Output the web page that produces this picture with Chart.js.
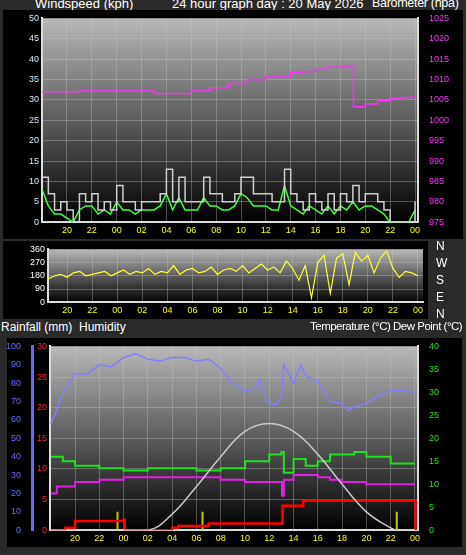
<!DOCTYPE html>
<html><head><meta charset="utf-8">
<script src="https://cdn.jsdelivr.net/npm/chart.js@4"></script>
<style>
body{margin:0;background:#2a2a2a;width:466px;height:555px;overflow:hidden;font-family:"Liberation Sans",Arial,sans-serif;}
.t{position:absolute;color:#fff;font-size:12px;white-space:nowrap;}
.c{position:absolute;background:#000;}
</style></head><body>
<div class="t" style="left:35px;top:-4px;font-size:13px">Windspeed (kph)</div>
<div class="t" style="left:172px;top:-4px;font-size:13px">24 hour graph day : 20 May 2026</div>
<div class="t" style="left:372px;top:-4px;font-size:12.5px;letter-spacing:-0.3px">Barometer (hpa)</div>
<div class="c" style="left:3px;top:10px;width:460px;height:229px"><canvas id="c1"></canvas></div>
<div class="c" style="left:3px;top:241px;width:425px;height:78px"><canvas id="c2"></canvas></div>
<div class="t" style="left:436px;top:238px;line-height:17px">N<br>W<br>S<br>E<br>N</div>
<div class="t" style="left:1px;top:320px">Rainfall (mm)&nbsp; Humidity</div>
<div class="t" style="left:310px;top:320px;font-size:11.5px;letter-spacing:-0.5px">Temperature (°C) Dew Point (°C)</div>
<div class="c" style="left:7px;top:338px;width:455px;height:209px"><canvas id="c3"></canvas></div>
<script>
// hours since 00:00 of the previous day, every 30 min
const hours = [];
for (let h = 18; h <= 48; h += 0.5) hours.push(h);
const windGust = [11,7,3,5,3,0,7,5,7,3,5,3,9,5,5,3,5,5,5,7,13,5,11,5,5,5,11,7,7,5,5,7,11,11,7,7,7,5,5,13,7,5,3,7,5,3,7,3,7,5,9,5,7,7,5,3,0,0,0,0,5];
const windAvg = [8,4,2,2,1,0,3,4,4,2,3,2,5,3,3,2,3,3,3,4,7,3,6,3,3,3,6,4,4,3,3,4,7,6,4,4,4,3,3,9,4,3,2,4,3,2,4,2,4,3,5,3,4,4,3,2,0,0,0,0,3];
const windDir = [200,160,180,190,170,200,210,180,190,200,210,180,200,220,190,210,200,230,190,210,200,250,190,220,230,200,210,240,190,220,230,210,250,200,230,260,220,240,200,280,230,150,250,30,270,320,60,300,330,120,340,280,320,200,300,350,230,170,210,200,180];
const pressHours = [18,21,24,27,28.5,30,31.5,33,34.5,36,37,38,39,40,41,42,43,43.05,44,45,46,47,48];
const pressVals = [1007,1007.2,1007.2,1006.6,1006.6,1007.2,1008,1009,1010,1010.6,1010.6,1011.8,1012,1012.5,1013,1013.3,1013.3,1003.3,1004,1004.8,1005.5,1005.6,1006];
const humHours = [18,18.5,19,19.5,20,21,22,23,24,25,26,27,28,29,30,31,32,33,34,35,35.2,35.8,36.5,37,37.2,38,38.6,39,40,41,42,42.5,43,44,45,46,47,48];
const humVals = [58,65,75,80,85,85,90,89,94,96,93,92,94,94,92,93,88,80,76,77,82,70,68,72,90,80,90,84,81,70,69,65,67,69,73,76,76,75];
const tempHours = [18,19,20,22,24,26,28,30,32,34,35,36,37,37.2,38,38.5,39,40,41,42,43,44,46,48];
const tempVals = [16,15,14,13.5,13,13.5,13.5,13,13.5,15,15,16.5,17,12.5,15.5,15.5,14,15,16.5,16.5,17,16,14.5,14.5];
const dewHours = [18,18.5,20,22,24,26,28,30,32,34,36,37,37.05,37.2,38,40,41,42,44,48];
const dewVals = [8,9.5,10.5,11,11.5,11.5,11.5,11.5,11,10.5,10.5,10.5,7.5,11,12,11.5,11,10.5,10,10];
const solarHours = [18,26,28,30,32,34,36,38,40,42,44,46,46.6,48];
const solarVals = [0,0,3.5,9.5,16,21.5,23.2,21.5,16.5,10,4,0.5,0,0];
const rainHours = [18,19.2,20,24,24.1,26,28,28.5,31,37,37.1,38.5,38.8,48,48.05];
const rainVals = [0,0.4,1.5,1.7,0,0,0.4,0.7,1.1,1.1,4,4,4.8,4.8,0];
const rateHours = [23.5,30.5,46.5];
const rateVals = [4,4,4];

const pts = (xs, ys) => xs.map((x, i) => ({x, y: ys[i]}));
const spikes = (xs, ys) => xs.flatMap((x, i) => [{x, y: 0}, {x, y: ys[i]}, {x, y: NaN}]);
const tickLbl = v => String(v % 24).padStart(2, '0');
const bg = {
  id: 'bg',
  beforeDraw(ch) {
    const a = ch.chartArea, c = ch.ctx;
    const g = c.createLinearGradient(0, a.top, 0, a.bottom);
    g.addColorStop(0, '#b8b8b8'); g.addColorStop(1, '#000');
    c.fillStyle = g; c.fillRect(a.left, a.top, a.right - a.left, a.bottom - a.top);
  }
};
const grid = {color: 'rgba(200,200,200,0.35)', borderDash: [1, 2], drawTicks: false};
const xAxis = (min, max) => ({type: 'linear', min, max, offset: false,
  afterBuildTicks: s => { s.ticks = []; for (let h = 20; h <= 48; h += 2) s.ticks.push({value: h}); },
  ticks: {color: '#ffff00', font: {size: 9}, callback: tickLbl, padding: 3, maxRotation: 0},
  grid, border: {color: '#ddd', width: 2}});
const yAxis = (pos, min, max, step, color, w, extra) => Object.assign({type: 'linear', position: pos, min, max,
  ticks: {stepSize: step, color, font: {size: 9}, padding: 3, autoSkip: false, callback: v => String(v)},
  grid: pos === 'left' ? grid : {display: false},
  border: {color: '#ddd', width: 2},
  afterFit: s => { s.width = w; }}, extra || {});
const base = {animation: false, responsive: false, plugins: {legend: {display: false}, tooltip: {enabled: false}},
  elements: {point: {radius: 0}, line: {borderWidth: 1.5, tension: 0}}};
function mk(id, w, h, cfg) {
  const cv = document.getElementById(id); cv.width = w; cv.height = h;
  new Chart(cv, Object.assign({type: 'line', plugins: [bg]}, cfg));
}

mk('c1', 460, 229, {data: {datasets: [
  {data: pts(hours, windGust), borderColor: '#cfcfcf', stepped: true, yAxisID: 'y'},
  {data: pts(hours, windAvg), borderColor: '#40ff40', yAxisID: 'y'},
  {data: pts(pressHours, pressVals), borderColor: '#ff30ff', stepped: true, yAxisID: 'baro'}
]}, options: Object.assign({}, base, {layout: {padding: {top: 3}}, scales: {
  x: xAxis(17.99, 48.24),
  y: yAxis('left', 0, 50, 5, '#d0e8ff', 39),
  baro: yAxis('right', 975, 1025, 5, '#ff30ff', 45)
}})});

mk('c2', 425, 78, {data: {datasets: [
  {data: pts(hours, windDir), borderColor: '#ffff30', borderWidth: 1.2, yAxisID: 'y'}
]}, options: Object.assign({}, base, {layout: {padding: {top: 6, right: 5}}, scales: {
  x: xAxis(18.47, 48.4),
  y: yAxis('left', 0, 360, 90, '#fff', 45, {afterBuildTicks: s => { s.ticks = [0, 90, 180, 270, 360].map(value => ({value})); }})
}})});

mk('c3', 455, 209, {data: {datasets: [
  {data: pts(humHours, humVals), borderColor: '#8080ff', yAxisID: 'hum'},
  {data: pts(solarHours, solarVals), borderColor: '#c8c8c8', tension: 0.4, yAxisID: 'temp'},
  {data: pts(tempHours, tempVals), borderColor: '#20e020', stepped: true, borderWidth: 2, yAxisID: 'temp'},
  {data: pts(dewHours, dewVals), borderColor: '#e020e0', stepped: true, borderWidth: 2, yAxisID: 'temp'},
  {data: pts(rainHours, rainVals), borderColor: '#ff0000', stepped: true, borderWidth: 2.5, yAxisID: 'rain'},
  {data: spikes(rateHours, rateVals), borderColor: '#c8c800', borderWidth: 2, spanGaps: false, yAxisID: 'temp'}
]}, options: Object.assign({}, base, {layout: {padding: {top: 4}}, scales: {
  x: xAxis(17.94, 48.25),
  hum: yAxis('left', 0, 100, 10, '#6a6aff', 25, {weight: 1, border: {color: '#6a6aff', width: 3}, grid: {display: false}}),
  rain: yAxis('left', 0, 30, 5, '#ff2020', 18, {weight: 0, grid}),
  temp: yAxis('right', 0, 40, 5, '#20e020', 44)
}})});
</script>
</body></html>
